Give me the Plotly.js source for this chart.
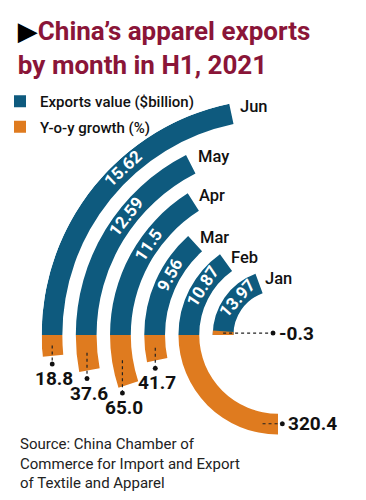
<!DOCTYPE html>
<html><head><meta charset="utf-8">
<script src="https://cdn.plot.ly/plotly-3.0.1.min.js"></script>
<style>html,body{margin:0;padding:0;overflow:hidden;background:#fff}#chart{width:366px;height:580px}</style>
</head><body><div id="chart"></div>
<script>
// ---- data ----
const months = ['Jan', 'Feb', 'Mar', 'Apr', 'May', 'Jun'];
const exportsValue = [13.97, 10.87, 9.56, 11.5, 12.59, 15.62];   // $billion
const yoyGrowth = [-0.3, 320.4, 41.7, 65.0, 37.6, 18.8];          // %
const exportsLabels = ['13.97', '10.87', '9.56', '11.5', '12.59', '15.62'];
const growthLabels = ['-0.3', '320.4', '41.7', '65.0', '37.6', '18.8'];

// ---- geometry / style ----
const W = 366, H = 580;
const CX = 277, CY = 335, R = 239;
const R0 = 45, STEP = 34.6, THICK = 21;
const DEG_PER_BN = 5.0;      // angular scale for export value
const DEG_PER_PCT = 0.281;   // angular scale for growth
const MIN_DEG = 4;
const BLUE = '#0E5A7E', ORANGE = '#DF7B1F';
const FONT = 'Roboto, "DejaVu Sans", sans-serif';

const inner = months.map((m, i) => R0 + i * STEP);
const mid = inner.map(r => r + THICK / 2);
const blueW = exportsValue.map(v => v * DEG_PER_BN);
const orangeW = yoyGrowth.map(g => Math.max(Math.abs(g) * DEG_PER_PCT, MIN_DEG));
const orangeSign = yoyGrowth.map(g => g < 0 ? 1 : -1);

function pt(r, theta) { // theta: degrees clockwise from 9 o'clock
  const phi = (180 - theta) * Math.PI / 180;
  return [CX + r * Math.cos(phi), CY - r * Math.sin(phi)];
}
const px2x = x => x / W, px2y = y => 1 - y / H;

const traces = [
  {
    type: 'barpolar', name: 'Exports value ($billion)', legendgroup: 'a',
    r: months.map(() => THICK), base: inner,
    theta: blueW.map(w => w / 2), width: blueW,
    marker: {color: BLUE, line: {width: 0}}, hoverinfo: 'skip'
  },
  {
    type: 'barpolar', name: 'Y-o-y growth (%)', legendgroup: 'b',
    r: months.map(() => THICK), base: inner,
    theta: orangeW.map((w, i) => orangeSign[i] * w / 2), width: orangeW,
    marker: {color: ORANGE, line: {width: 0}}, hoverinfo: 'skip'
  }
];

const annotations = [];
const shapes = [];

months.forEach((m, i) => {
  // month label at end of blue arc
  const te = blueW[i];
  const [lx, ly] = pt(inner[i] + THICK - 6, te + 1);
  annotations.push({x: px2x(lx), y: px2y(ly), xref: 'paper', yref: 'paper', text: m,
    showarrow: false, xanchor: 'left', yanchor: 'middle', xshift: 4,
    font: {family: FONT, size: 16.5, color: '#111', weight: 500}});
  // value label along blue arc
  const tt = te * 0.6;
  const [vx, vy] = pt(mid[i], tt);
  annotations.push({x: px2x(vx), y: px2y(vy), xref: 'paper', yref: 'paper', text: exportsLabels[i],
    showarrow: false, xanchor: 'center', yanchor: 'middle', textangle: tt - 90,
    font: {family: FONT, size: 17, color: '#fff', weight: 700}});
  // growth label with dotted leader
  const w = orangeW[i], s = orangeSign[i];
  const horizontal = yoyGrowth[i] < 0 || w > 45;
  if (horizontal) {
    const [sx, sy] = pt(mid[i], s * (w - Math.min(w / 2, 10)));
    const dx = Math.max(sx + 20, CX - 5);
    shapes.push({type: 'line', xref: 'paper', yref: 'paper', x0: px2x(sx), y0: px2y(sy), x1: px2x(dx), y1: px2y(sy),
      line: {color: '#222', width: 1.2, dash: 'dot'}});
    shapes.push({type: 'circle', xref: 'paper', yref: 'paper', x0: px2x(dx - 2.5), x1: px2x(dx + 2.5), y0: px2y(sy - 2.5), y1: px2y(sy + 2.5),
      fillcolor: '#111', line: {width: 0}});
    annotations.push({x: px2x(dx + 4), y: px2y(sy), xref: 'paper', yref: 'paper', text: growthLabels[i],
      showarrow: false, xanchor: 'left', yanchor: 'middle',
      font: {family: FONT, size: 19, color: '#111', weight: 700}});
  } else {
    const [sx, sy] = pt(mid[i], s * w / 2);
    const [, ey] = pt(mid[i], s * w);
    const dy = ey + 8;
    shapes.push({type: 'line', xref: 'paper', yref: 'paper', x0: px2x(sx), y0: px2y(sy), x1: px2x(sx), y1: px2y(dy),
      line: {color: '#222', width: 1.2, dash: 'dot'}});
    shapes.push({type: 'circle', xref: 'paper', yref: 'paper', x0: px2x(sx - 2.5), x1: px2x(sx + 2.5), y0: px2y(dy - 2.5), y1: px2y(dy + 2.5),
      fillcolor: '#111', line: {width: 0}});
    annotations.push({x: px2x(sx + 2), y: px2y(dy + 1), xref: 'paper', yref: 'paper', text: growthLabels[i],
      showarrow: false, xanchor: 'center', yanchor: 'top',
      font: {family: FONT, size: 19, color: '#111', weight: 700}});
  }
});

annotations.push({x: px2x(14), y: px2y(433), xref: 'paper', yref: 'paper', xanchor: 'left', yanchor: 'top', align: 'left',
  showarrow: false, text: 'Source: China Chamber of<br>Commerce for Import and Export<br>of Textile and Apparel',
  font: {family: FONT, size: 15, color: '#222'}});

const layout = {
  width: W, height: H, margin: {l: 0, r: 0, t: 0, b: 0},
  paper_bgcolor: '#fff', plot_bgcolor: '#fff',
  title: {
    text: '<span style="color:#000">▶</span>China’s apparel exports<br>by month in H1, 2021',
    x: px2x(14), xanchor: 'left', xref: 'paper', y: px2y(40), yanchor: 'top', yref: 'container',
    font: {family: FONT, size: 26, color: '#8A1538', weight: 700}
  },
  showlegend: true,
  legend: {x: -0.012, y: px2y(85), xanchor: 'left', yanchor: 'top', tracegroupgap: 3,
    font: {family: FONT, size: 15, color: '#111', weight: 500}, bgcolor: 'rgba(0,0,0,0)'},
  polar: {
    domain: {x: [(CX - R) / W, CX / W], y: [1 - (CY + R) / H, 1 - (CY - R) / H]},
    sector: [90, 270], hole: 0, bgcolor: 'rgba(0,0,0,0)',
    radialaxis: {range: [0, R], visible: false, showgrid: false},
    angularaxis: {rotation: 180, direction: 'clockwise', visible: false, showgrid: false}
  },
  annotations: annotations, shapes: shapes
};

Plotly.newPlot('chart', traces, layout, {displayModeBar: false, staticPlot: true});
</script>
</body></html>
